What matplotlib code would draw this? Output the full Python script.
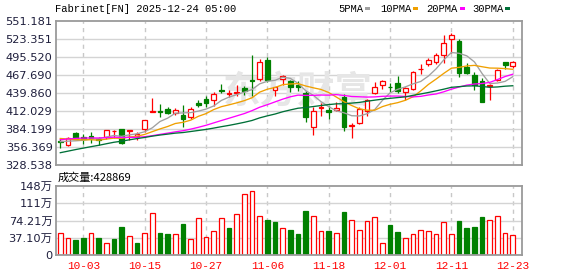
import matplotlib
matplotlib.use('Agg')
import matplotlib.pyplot as plt
import numpy as np
import pandas as pd
from matplotlib.patches import Rectangle

W, H, DPI = 578, 276, 100

# ---------------- data ----------------
dates = [d.strftime('%m-%d') for d in pd.bdate_range('2025-09-30', '2025-12-23')
         if d.strftime('%m-%d') != '11-27']

opens = [365.6, 360.0, 378.5, 372.3, 373.3, 369.7, 371.8, 381.0, 384.2, 381.1,
         373.3, 384.2, 411.0, 413.0, 415.6, 408.9, 406.9, 403.8, 424.9, 431.1,
         429.6, 444.5, 439.3, 439.9, 448.6, 460.5, 462.5, 491.4, 445.5, 461.5,
         458.4, 452.8, 440.4, 387.3, 416.7, 413.6, 413.6, 434.7, 389.3, 393.5,
         413.1, 439.9, 452.2, 450.2, 455.8, 441.4, 446.0, 476.9, 484.7, 488.8,
         498.6, 523.35, 520.8, 480.6, 468.2, 458.9, 451.2, 460.5, 488.3, 482.6]
highs = [370.3, 372.9, 380.1, 376.4, 379.5, 372.9, 383.7, 383.2, 385.2, 383.2,
         379.5, 399.1, 432.6, 423.0, 418.2, 417.2, 421.3, 419.2, 429.6, 435.2,
         441.9, 453.8, 445.0, 452.2, 451.2, 499.6, 492.9, 495.5, 449.6, 468.2,
         461.0, 458.9, 443.5, 418.2, 424.4, 420.3, 425.9, 438.8, 394.0, 418.2,
         431.1, 457.4, 460.5, 456.3, 467.2, 450.2, 474.4, 484.7, 494.5, 502.7,
         529.5, 532.6, 523.4, 486.2, 472.8, 463.0, 453.8, 476.9, 488.8, 489.9]
lows = [355.9, 358.4, 369.0, 361.0, 363.6, 359.5, 369.2, 371.3, 361.5, 368.2,
        367.7, 379.5, 410.5, 403.8, 407.9, 406.9, 387.3, 400.7, 418.2, 419.2,
        420.8, 439.9, 434.7, 435.7, 436.8, 435.7, 458.4, 457.4, 435.2, 453.3,
        442.4, 443.5, 396.0, 375.9, 405.3, 400.2, 413.1, 381.6, 371.3, 393.0,
        404.3, 438.8, 446.6, 441.9, 440.4, 429.6, 445.0, 469.7, 482.1, 485.7,
        487.3, 502.7, 464.6, 470.3, 445.5, 425.9, 430.1, 459.4, 476.9, 478.5]
closes = [365.1, 370.3, 369.5, 369.2, 371.3, 368.2, 382.6, 382.0, 362.5, 382.7,
          376.4, 398.6, 412.5, 411.0, 408.9, 414.6, 400.7, 415.1, 422.3, 424.4,
          438.8, 443.5, 440.9, 441.5, 443.5, 458.9, 487.8, 460.5, 449.1, 467.2,
          450.2, 449.1, 403.8, 413.1, 418.2, 411.5, 417.2, 388.3, 390.8, 416.2,
          429.0, 449.1, 459.4, 449.1, 443.5, 448.1, 472.3, 478.0, 490.9, 499.1,
          517.2, 529.5, 471.8, 471.3, 452.2, 427.0, 452.2, 475.9, 484.2, 488.3]
# closes of the 29 sessions before the window (needed for the moving averages)
prior_closes = [298, 296, 302, 304, 306, 310, 312, 314, 318, 320,
                345, 352, 360, 366, 370, 372, 368, 374, 376, 377,
                378, 380, 372, 370, 375, 366, 367, 365, 362]
volumes_wan = [47.3, 35.9, 32.3, 36.6, 47.3, 36.6, 25.8, 34.4, 60.2, 40.2,
               26.5, 47.3, 90.3, 48.0, 45.2, 45.2, 67.4, 34.4, 78.9, 38.0,
               50.9, 78.9, 58.1, 88.2, 130.5, 136.9, 83.2, 75.3, 71.0, 57.4,
               53.8, 45.9, 94.6, 83.9, 51.6, 51.6, 47.3, 92.5, 74.6, 53.1,
               73.1, 81.0, 25.8, 64.5, 49.5, 35.9, 45.2, 53.8, 51.6, 45.2,
               71.0, 45.2, 73.1, 58.1, 60.2, 81.7, 75.3, 83.9, 47.3, 42.8869]
last_volume = 428869

price_ticks = [551.181, 523.351, 495.520, 467.690, 439.860, 412.029, 384.199, 356.369, 328.538]
vol_ticks_wan = [0, 37.105, 74.21, 111.315, 148.42]
vol_tick_labels = ['0', '37.10万', '74.21万', '111万', '148万']
date_labels = ['10-03', '10-15', '10-27', '11-06', '11-18', '12-01', '12-11', '12-23']
ma_windows = [5, 10, 20, 30]
ma_names = ['5PMA', '10PMA', '20PMA', '30PMA']
ma_colors = ['#a0a0a0', '#f0a000', '#ff00ff', '#007038']
title = 'Fabrinet[FN] 2025-12-24 05:00'

# ---------------- figure ----------------
RED = '#ff0000'
GREEN = '#008000'
SPINE = '#9a9a9a'
GRID = '#d4d4d4'
LABEL = '#1e1e3c'
MONO = 'Liberation Mono'

fig = plt.figure(figsize=(W / DPI, H / DPI), dpi=DPI)
fig.patch.set_facecolor('white')
ax = fig.add_axes([56 / W, 1 - 165.3 / H, 466 / W, 144 / H])
axv = fig.add_axes([56 / W, 1 - 255 / H, 466 / W, 69 / H])

n = len(closes)
xs = np.arange(n)
xlim = (-0.56, 60.2)

all_c = pd.Series(prior_closes + closes, dtype=float)
mas = [all_c.rolling(w).mean().to_numpy()[len(prior_closes):] for w in ma_windows]

date_pos = [dates.index(d) for d in date_labels]

for a in (ax, axv):
    a.set_xlim(*xlim)
    for s in a.spines.values():
        s.set_color(SPINE)
        s.set_linewidth(1.3)
    for p in date_pos:
        a.axvline(p, color='#c8c8c8', lw=1.0, ls=(0, (3, 3)), zorder=0)

# price panel
ax.set_ylim(price_ticks[-1], price_ticks[0])
for t in price_ticks[1:-1]:
    ax.axhline(t, color=GRID, lw=1.0, zorder=0)
ax.set_yticks(price_ticks)
ax.set_yticklabels([f'{t:.3f}' for t in price_ticks], color=LABEL, fontsize=8.2)
ax.tick_params(axis='y', length=0, pad=2.5)
ax.set_xticks([])

ax.text(0.52, 0.51, '东方财富', transform=ax.transAxes, ha='center', va='center',
        fontsize=27, fontweight='bold', color='#e6e6e6', family=['Noto Sans CJK SC'], zorder=0.5)

bw = 0.62
for i in range(n):
    o, h, l, c = opens[i], highs[i], lows[i], closes[i]
    up = c >= o
    col = RED if up else GREEN
    top, bot = max(o, c), min(o, c)
    ax.vlines(i, top, h, color=col, lw=0.9, zorder=2)
    ax.vlines(i, l, bot, color=col, lw=0.9, zorder=2)
    hgt = max(top - bot, 0.5)
    ax.add_patch(Rectangle((i - bw / 2, bot), bw, hgt,
                           facecolor='white' if up else GREEN,
                           edgecolor=col, lw=0.9, zorder=2.5))

for m, colr in zip(mas, ma_colors):
    ax.plot(xs, m, color=colr, lw=0.95, zorder=3)

# volume panel
vols = np.array(volumes_wan) * 1e4
axv.set_ylim(0, vol_ticks_wan[-1] * 1e4)
for t in vol_ticks_wan[1:-1]:
    axv.axhline(t * 1e4, color=GRID, lw=1.0, zorder=0)
axv.set_yticks([t * 1e4 for t in vol_ticks_wan])
axv.set_yticklabels(vol_tick_labels, color=LABEL, fontsize=8.2,
                    family=['DejaVu Sans', 'Noto Sans CJK SC'])
axv.tick_params(axis='y', length=0, pad=2.5)

prev = [prior_closes[-1]] + closes[:-1]
vbw = 0.6
for i in range(n):
    up = closes[i] >= prev[i]
    if up:
        axv.add_patch(Rectangle((i - vbw / 2, 0), vbw, vols[i], facecolor='white',
                                edgecolor=RED, lw=0.9, zorder=2))
    else:
        axv.add_patch(Rectangle((i - vbw / 2, 0), vbw, vols[i], facecolor=GREEN,
                                edgecolor=GREEN, lw=0.9, zorder=2))

axv.set_xticks(date_pos)
axv.set_xticklabels(date_labels, color=RED, fontsize=8, family=MONO)
axv.tick_params(axis='x', length=0, pad=4)

# header texts
fig.text(55 / W, 1 - 8.5 / H, title, fontsize=7.6, family=MONO, color='black',
         ha='left', va='center')
fig.text(58 / W, 1 - 178 / H, f'成交量:{last_volume}', fontsize=8,
         family=['Noto Sans CJK SC', 'DejaVu Sans'], color='black', ha='left', va='center')

leg_x = [338, 380, 426, 472]
sq_x = [365, 413, 460, 505]
for name, colr, lx, sx in zip(ma_names, ma_colors, leg_x, sq_x):
    fig.text(lx / W, 1 - 8.5 / H, name, fontsize=7.6, family=MONO, color='black',
             ha='left', va='center')
    fig.patches.append(Rectangle((sx / W, 1 - 10 / H), 5 / W, 3 / H,
                                 transform=fig.transFigure, facecolor=colr,
                                 edgecolor='none'))

fig.savefig('out.png', dpi=DPI)
